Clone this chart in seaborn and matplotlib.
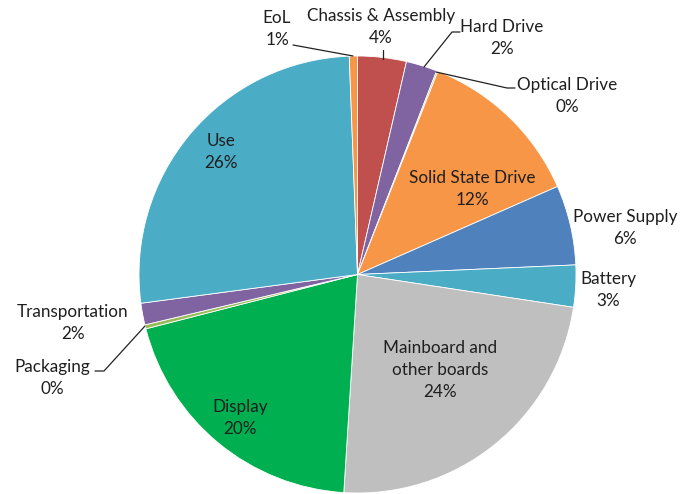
import matplotlib
matplotlib.use("Agg")
import matplotlib.pyplot as plt
import seaborn as sns

# ---- data (clockwise from 12 o'clock) ----
categories = ["Chassis & Assembly", "Hard Drive", "Optical Drive", "Solid State Drive",
              "Power Supply", "Battery", "Mainboard and\nother boards", "Display",
              "Packaging", "Transportation", "Use", "EoL"]
shares = [3.6, 2.3, 0.1, 12.4, 5.9, 3.1, 23.6, 20.0, 0.3, 1.6, 26.5, 0.6]
pct_labels = ["4%", "2%", "0%", "12%", "6%", "3%", "24%", "20%", "0%", "2%", "26%", "1%"]
slice_colors = ["#C0504D", "#8064A2", "#9BBB59", "#F79646", "#4F81BD", "#4BACC6",
                "#BFBFBF", "#00B050", "#9BBB59", "#8064A2", "#4BACC6", "#F79646"]

sns.set_theme(style="white")
plt.rcParams['font.family'] = ['Lato', 'DejaVu Sans']

W, H = 695, 494
fig = plt.figure(figsize=(W / 100, H / 100), dpi=100)
ax = fig.add_axes([0, 0, 1, 1])

cx, cy, r = 357.5, H - 274.5, 218.5
palette = sns.color_palette(slice_colors)
ax.pie(shares, colors=palette, startangle=90, counterclock=False,
       center=(cx, cy), radius=r, frame=True,
       wedgeprops=dict(edgecolor="white", linewidth=0.6))
ax.set_xlim(0, W)
ax.set_ylim(0, H)
ax.axis('off')

# label layout (image pixel coords of text block centre)
label_pos = {
    "Chassis & Assembly": (381, 27),
    "Hard Drive": (502, 38),
    "Optical Drive": (567, 96),
    "Solid State Drive": (472, 189),
    "Power Supply": (625, 228),
    "Battery": (608, 290),
    "Mainboard and\nother boards": (440, 370),
    "Display": (240, 418),
    "Packaging": (52, 378),
    "Transportation": (73, 323),
    "Use": (221, 152),
    "EoL": (277, 29),
}
for cat, pct in zip(categories, pct_labels):
    x, y = label_pos[cat]
    ax.text(x, H - y, f"{cat}\n{pct}", ha="center", va="center",
            fontsize=12.3, color="#1f1f1f", linespacing=1.45)

# leader lines
leaders = [
    [(293, 45), (353, 56)],
    [(383, 50), (383, 59)],
    [(460, 32), (452, 32), (424, 67)],
    [(515, 88), (507, 88), (436, 72)],
    [(95, 371), (104, 371), (145, 326)],
]
for pts in leaders:
    xs = [p[0] for p in pts]
    ys = [H - p[1] for p in pts]
    ax.plot(xs, ys, color="#222222", linewidth=0.9)

fig.savefig("out.png", dpi=100)
